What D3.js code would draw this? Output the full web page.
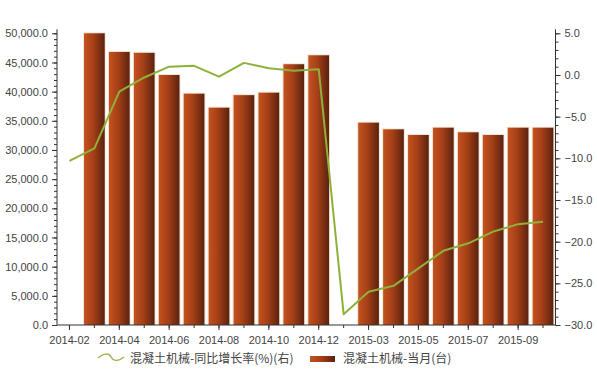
<!DOCTYPE html>
<html>
<head>
<meta charset="utf-8">
<script src="https://cdn.jsdelivr.net/npm/d3@7"></script>
<style>
  html, body { margin: 0; padding: 0; background: #fff; }
  svg { display: block; font-family: "Liberation Sans", Arial, sans-serif; }
</style>
</head>
<body>
<div class="chart"></div>
<script>
// categories (Jan+Feb reported together, so 2015-01 is absent)
const months = ['2014-02', '2014-03', '2014-04', '2014-05', '2014-06', '2014-07', '2014-08',
  '2014-09', '2014-10', '2014-11', '2014-12', '2015-02', '2015-03', '2015-04', '2015-05',
  '2015-06', '2015-07', '2015-08', '2015-09', '2015-10'];

// monthly output (台); null = no bar
const monthly = [null, 50000, 46800, 46650, 42850, 39650, 37250, 39400, 39820, 44700, 46230,
  null, 34680, 33540, 32570, 33820, 33030, 32570, 33820, 33820];

// year-on-year growth (%)
const growth = [-10.3, -8.8, -2.0, -0.3, 1.0, 1.1, -0.2, 1.45, 0.8, 0.5, 0.7,
  -28.7, -26.0, -25.3, -23.2, -21.1, -20.2, -18.8, -17.9, -17.6];

const leftTicks = d3.range(0, 50001, 5000);
const rightTicks = d3.range(-30, 5.01, 5);
const labelledMonths = months.filter((d, i) => i % 2 === 0);

const lineName = '混凝土机械-同比增长率(%)(右)';
const barName = '混凝土机械-当月(台)';

const width = 597;
const height = 371;
const margin = { top: 33.3, right: 41.5, bottom: 46, left: 57 };
const plotBottom = height - margin.bottom;

const svg = d3
  .select('.chart')
  .append('svg')
  .attr('width', width)
  .attr('height', height);

const defs = svg.append('defs');
const grad = defs
  .append('linearGradient')
  .attr('id', 'barGrad')
  .attr('x1', '0%')
  .attr('x2', '100%')
  .attr('y1', '0%')
  .attr('y2', '0%');
grad.append('stop').attr('offset', '0%').attr('stop-color', '#c4521f');
grad.append('stop').attr('offset', '45%').attr('stop-color', '#a53f17');
grad.append('stop').attr('offset', '100%').attr('stop-color', '#5a2210');

const x = d3
  .scaleBand()
  .domain(months)
  .range([margin.left, width - margin.right])
  .paddingInner(0.17)
  .paddingOuter(0.085);

const yLeft = d3
  .scaleLinear()
  .domain([0, 50000])
  .range([plotBottom, margin.top]);

const yRight = d3
  .scaleLinear()
  .domain([-30, 5])
  .range([plotBottom, margin.top]);

// bars: soft halo then the bar itself
const barData = months
  .map((m, i) => ({ m, v: monthly[i] }))
  .filter((d) => d.v !== null);

svg
  .append('g')
  .selectAll('rect')
  .data(barData)
  .join('rect')
  .attr('x', (d) => x(d.m) - 1)
  .attr('y', (d) => yLeft(d.v) - 1)
  .attr('width', x.bandwidth() + 2)
  .attr('height', (d) => plotBottom - yLeft(d.v) + 1)
  .attr('fill', '#f3e4d2');

svg
  .append('g')
  .selectAll('rect')
  .data(barData)
  .join('rect')
  .attr('x', (d) => x(d.m))
  .attr('y', (d) => yLeft(d.v))
  .attr('width', x.bandwidth())
  .attr('height', (d) => plotBottom - yLeft(d.v))
  .attr('fill', 'url(#barGrad)');

// growth line
const line = d3
  .line()
  .x((d, i) => x(months[i]) + x.bandwidth() / 2)
  .y((d) => yRight(d));

svg
  .append('path')
  .datum(growth)
  .attr('fill', 'none')
  .attr('stroke', '#8fb13a')
  .attr('stroke-width', 2)
  .attr('stroke-linejoin', 'round')
  .attr('d', line);

// axes
const axisColor = '#333';
const labelColor = '#444';

const leftAxis = svg.append('g').attr('transform', `translate(${margin.left},0)`);
leftAxis
  .call(
    d3.axisLeft(yLeft)
      .tickValues(d3.range(0, 50001, 1000))
      .tickSize(3)
      .tickFormat('')
  )
  .call((g) => g.select('.domain').remove());
leftAxis
  .append('g')
  .call(
    d3.axisLeft(yLeft)
      .tickValues(leftTicks)
      .tickSize(5)
      .tickPadding(4)
      .tickFormat(d3.format(',.1f'))
  )
  .call((g) => g.select('.domain').remove());
leftAxis
  .append('line')
  .attr('y1', margin.top - 4)
  .attr('y2', plotBottom)
  .attr('stroke', axisColor);

const rightAxis = svg.append('g').attr('transform', `translate(${width - margin.right},0)`);
rightAxis
  .call(
    d3.axisRight(yRight)
      .tickValues(d3.range(-30, 5.01, 1))
      .tickSize(3)
      .tickFormat('')
  )
  .call((g) => g.select('.domain').remove());
rightAxis
  .append('g')
  .call(
    d3.axisRight(yRight)
      .tickValues(rightTicks)
      .tickSize(5)
      .tickPadding(4)
      .tickFormat(d3.format('.1f'))
  )
  .call((g) => g.select('.domain').remove());
rightAxis
  .append('line')
  .attr('y1', margin.top - 4)
  .attr('y2', plotBottom)
  .attr('stroke', axisColor);

const bottomAxis = svg.append('g').attr('transform', `translate(0,${plotBottom})`);
bottomAxis
  .call(
    d3.axisBottom(x)
      .tickSize(3)
      .tickFormat('')
  )
  .call((g) => g.select('.domain').remove());
bottomAxis
  .append('g')
  .call(
    d3.axisBottom(x)
      .tickValues(labelledMonths)
      .tickSize(5)
      .tickPadding(6)
  )
  .call((g) => g.select('.domain').remove());
bottomAxis
  .append('line')
  .attr('x1', margin.left)
  .attr('x2', width - margin.right)
  .attr('stroke', axisColor);

svg.selectAll('.tick line').attr('stroke', axisColor);
svg
  .selectAll('.tick text')
  .attr('fill', labelColor)
  .attr('font-size', '11px')
  .attr('font-family', '"Liberation Sans", Arial, sans-serif');

// legend
const legend = svg.append('g').attr('transform', 'translate(0,359)');
legend
  .append('path')
  .attr('d', 'M98,-1 C104,-6 109,-6 111,-2 C113,2 118,3 124,-2')
  .attr('fill', 'none')
  .attr('stroke', '#9cb956')
  .attr('stroke-width', 1.5);
legend
  .append('text')
  .attr('x', 130)
  .attr('y', 4)
  .attr('font-size', '12px')
  .attr('fill', '#444')
  .attr('font-family', '"Noto Sans CJK SC", sans-serif')
  .text(lineName);
legend
  .append('rect')
  .attr('x', 310)
  .attr('y', -3)
  .attr('width', 25)
  .attr('height', 6)
  .attr('fill', 'url(#barGrad)');
legend
  .append('text')
  .attr('x', 343)
  .attr('y', 4)
  .attr('font-size', '12px')
  .attr('fill', '#444')
  .attr('font-family', '"Noto Sans CJK SC", sans-serif')
  .text(barName);
</script>
</body>
</html>
